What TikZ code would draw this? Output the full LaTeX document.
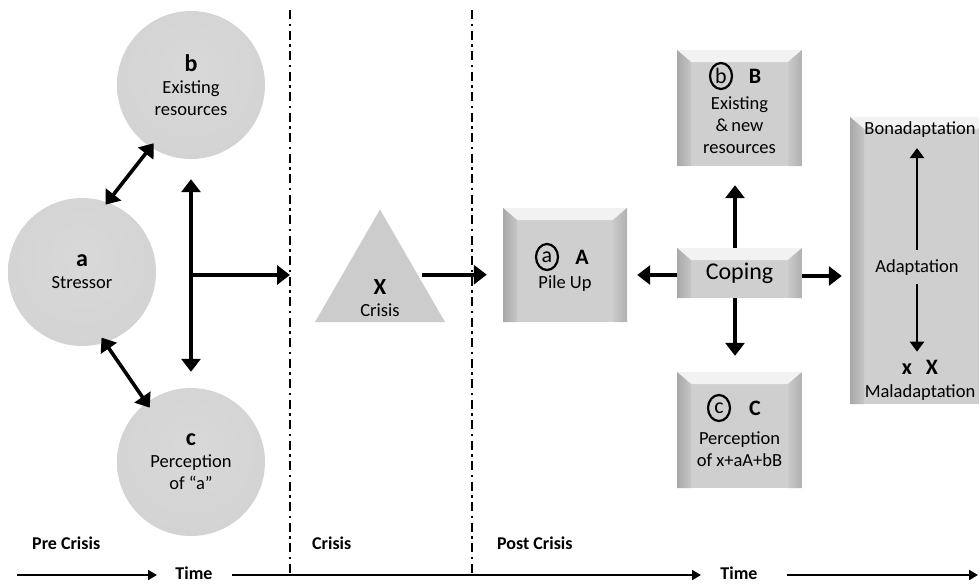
\documentclass[tikz,border=0pt]{standalone}
\usepackage{fontspec}
\setmainfont{Carlito}
\usetikzlibrary{arrows.meta,shapes.geometric,calc}
\colorlet{discA}{gray!30}
\colorlet{discB}{gray!36}
\colorlet{discC}{gray!46}
\colorlet{discD}{gray!58}
\pgfdeclareradialshading{discshade}{\pgfpoint{0bp}{6bp}}{color(0bp)=(discA); color(38bp)=(discB); color(52bp)=(discC); color(58bp)=(discD)}
\colorlet{face}{gray!38}
\colorlet{bevtop}{gray!10}
\colorlet{trigray}{gray!40}
\tikzset{
  disc/.style={circle, shading=discshade, minimum size=148pt, inner sep=0pt, align=center},
  bevel/.style={rectangle, fill=face, inner sep=0pt, align=center,
    path picture={
      \coordinate (pnw) at (path picture bounding box.north west);
      \coordinate (pne) at (path picture bounding box.north east);
      \coordinate (psw) at (path picture bounding box.south west);
      \coordinate (pse) at (path picture bounding box.south east);
      \fill[bevtop] (pnw) -- (pne) -- ([xshift=-14pt,yshift=-12pt]pne) -- ([xshift=14pt,yshift=-12pt]pnw) -- cycle;
      \shade[left color=gray!68, right color=gray!45] (pnw) -- ([xshift=14pt,yshift=-12pt]pnw) -- ([xshift=14pt]psw) -- (psw) -- cycle;
      \shade[left color=gray!42, right color=gray!62] (pne) -- ([xshift=-14pt,yshift=-12pt]pne) -- ([xshift=-14pt]pse) -- (pse) -- cycle;
    }},
  circl/.style={draw, ellipse, line width=2.2pt, inner sep=0pt, minimum width=22pt, minimum height=26pt, font=\fontsize{22}{24}\selectfont},
  capl/.style={inner sep=0pt, font=\fontsize{22}{24}\selectfont\bfseries},
  txt/.style={inner sep=0pt, align=center},
  arr/.style={line width=3.6pt, -{Triangle[length=13pt,width=19pt]}},
  darr/.style={line width=3.6pt, {Triangle[length=13pt,width=19pt]}-{Triangle[length=13pt,width=19pt]}},
  sarr/.style={line width=2.8pt, -{Triangle[length=10pt,width=14pt]}},
  tarr/.style={line width=2.6pt, -{Triangle[length=9pt,width=10pt]}},
  dashdot line/.style={line width=2.8pt, dash pattern=on 9pt off 4.5pt on 2.5pt off 4.5pt},
  lbl/.style={font=\fontsize{18}{20}\selectfont\bfseries, inner sep=0pt},
}
\begin{document}
\begin{tikzpicture}[x=1pt,y=-1pt,font=\fontsize{18.5}{22}\selectfont]
\clip (0,0) rectangle (979,584);
\fill[white] (0,0) rectangle (979,584);

% dash-dot separators
\coordinate (L1t) at (290,10); \coordinate (L1b) at (290,575);
\coordinate (L2t) at (472,10); \coordinate (L2b) at (472,575);
\draw[dashdot line] (L1t) -- (L1b);
\draw[dashdot line] (L2t) -- (L2b);

% pre crisis circles
\node[disc] (b) at (191,85) {{\fontsize{24}{26}\selectfont\bfseries b}\\Existing\\resources};
\node[disc] (a) at (82,272) {{\fontsize{24}{26}\selectfont\bfseries a}\\Stressor};
\node[disc] (c) at (191,462) {{\fontsize{24}{26}\selectfont\bfseries c}\\Perception\\of “a”};

\draw[darr, shorten <=-3pt, shorten >=-5pt] (a.70) -- (b.237);
\draw[darr, shorten <=-6pt, shorten >=-6pt] (a.288) -- (c.127);
\draw[darr, shorten <=20pt, shorten >=16pt] (b.south) -- (c.north);
\coordinate (j) at (191,275);
\draw[arr] (j) -- (j -| L1t);

% crisis
\node[regular polygon, regular polygon sides=3, minimum size=150pt, inner sep=0pt, fill=trigray] (X) at (380,284.5) {};
\node[txt] (xt) at (380,298) {{\fontsize{23}{25}\selectfont\bfseries X}\\Crisis};

% post crisis boxes
\node[bevel, minimum width=124pt, minimum height=114pt] (A) at (565,265) {};
\node[circl] (ca) at (547,257) {a};
\node[capl] (cA) at (582,257) {A};
\node[txt] (pile) at (565,284) {Pile Up};

\node[bevel, minimum width=125pt, minimum height=50pt, font=\fontsize{24}{26}\selectfont] (cop) at (739.5,273) {Coping};

\node[bevel, minimum width=125pt, minimum height=116pt] (B) at (739.5,108) {};
\node[circl] (cb) at (721,76) {b};
\node[capl] (cB) at (755,76) {B};
\node[txt] (btxt) at (739.5,125) {Existing\\\&\,new\\resources};

\node[bevel, minimum width=125pt, minimum height=116pt] (C) at (739.5,430) {};
\node[circl] (cc) at (719,408) {c};
\node[capl] (cC) at (755,408) {C};
\node[txt] (ctxt) at (739.5,449) {Perception\\of x+aA+bB};

\node[bevel, minimum width=142pt, minimum height=287pt] (ad) at (921,260.5) {};

\path ($(X.corner 1)!0.58!(X.corner 3)$) coordinate (xr);
\draw[arr, shorten <=4pt, shorten >=16pt] (xr) -- (xr -| A.west);
\draw[arr, shorten >=10pt] ([yshift=-2pt]cop.west) -- ([yshift=-2pt]cop.west -| A.east);
\draw[arr, shorten >=19pt] ([xshift=-4.5pt]cop.north) -- ([xshift=-4.5pt]B.south);
\draw[arr, shorten >=16pt] ([xshift=-4.5pt]cop.south) -- ([xshift=-4.5pt]C.north);
\draw[arr, shorten >=8pt] ([yshift=-3pt]cop.east) -- ([yshift=-3pt]cop.east -| ad.west);

% adaptation texts
\node[inner sep=0pt] (bona) at (920,130) {Bonadaptation};
\node[inner sep=0pt] (adt) at (917,268) {Adaptation};
\node[inner sep=0pt, font=\fontsize{22}{23}\selectfont\bfseries] (xX) at (920,367) {x\hspace{14pt}X};
\node[inner sep=0pt] (mal) at (920,393) {Maladaptation};
\draw[sarr, shorten <=10pt, shorten >=10pt] (adt.north) -- (adt.north |- bona.south);
\draw[sarr, shorten <=8pt, shorten >=8pt] (adt.south) -- (adt.south |- xX.north);

% phase labels
\node[lbl, anchor=west] (pre) at (32,543) {Pre Crisis};
\node[lbl, anchor=west] (cri) at (312,543) {Crisis};
\node[lbl, anchor=west] (post) at (497,543) {Post Crisis};

% time axis
\node[lbl] (time1) at (194,573) {Time};
\node[lbl] (time2) at (739,573) {Time};
\coordinate (ta) at (17,575); \coordinate (tb) at (157,575);
\coordinate (tc) at (232,575); \coordinate (td) at (701,575);
\coordinate (te) at (787,575); \coordinate (tf) at (978,575);
\draw[tarr] (ta) -- (tb);
\draw[tarr] (tc) -- (td);
\draw[tarr] (te) -- (tf);
\end{tikzpicture}
\end{document}
